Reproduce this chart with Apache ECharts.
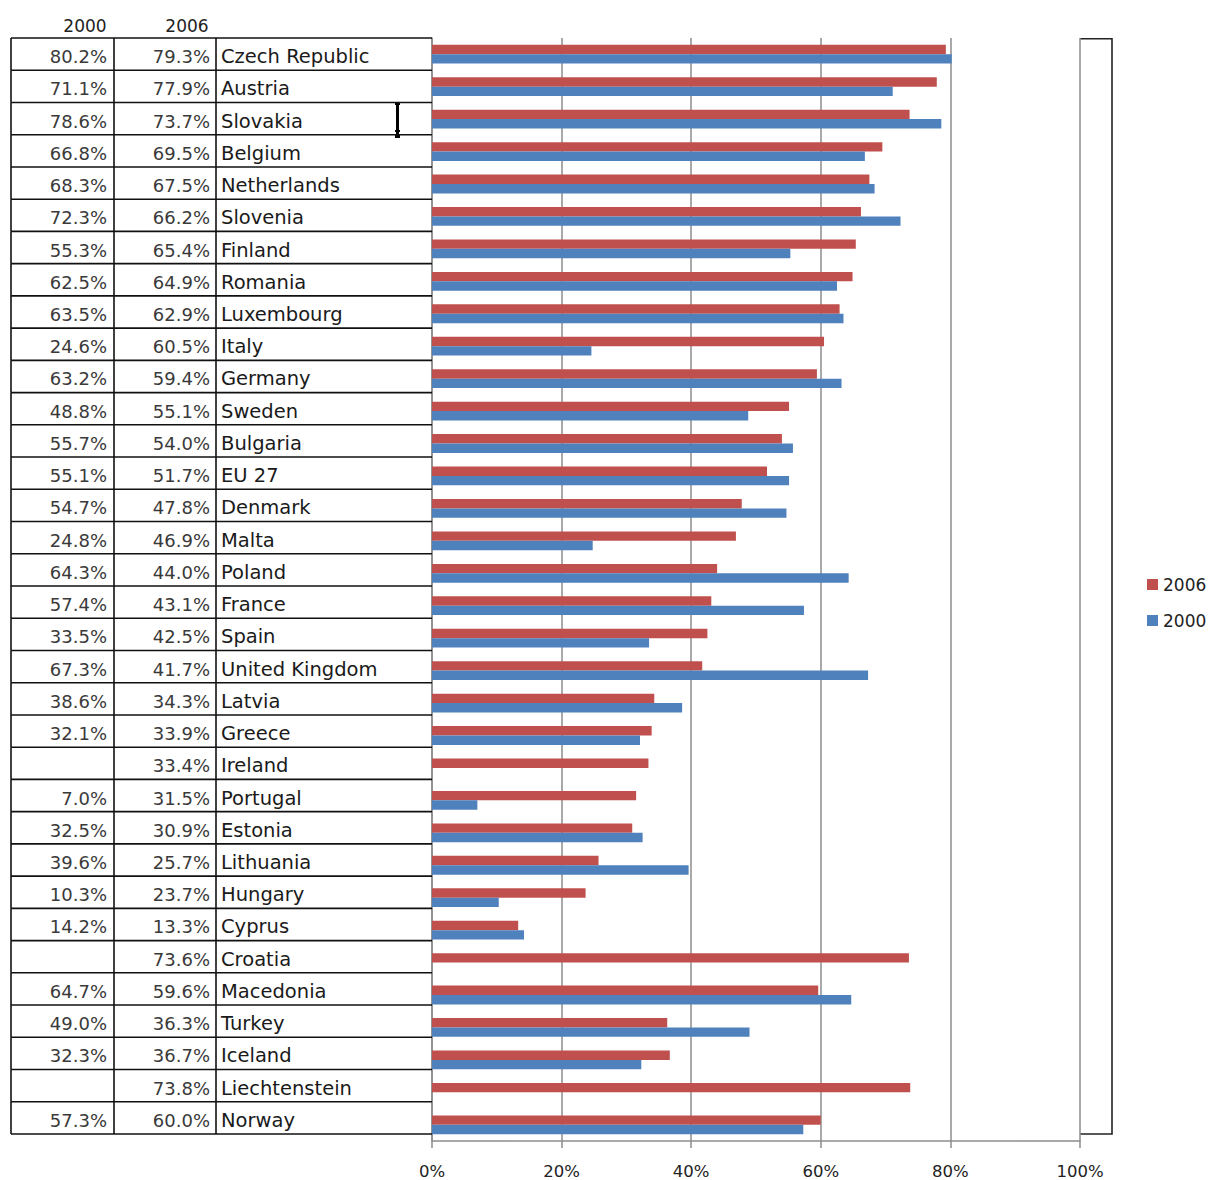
<!DOCTYPE html>
<html>
<head>
<meta charset="utf-8">
<title>Share by country, 2000 and 2006</title>
<script src="https://cdn.jsdelivr.net/npm/echarts@6/dist/echarts.min.js"></script>
<style>
  html, body { margin: 0; padding: 0; background: #ffffff; }
  #chart { width: 1209px; height: 1180px; }
</style>
</head>
<body>
<div id="chart"></div>
<script>
// Countries, top to bottom
var countries = [
  'Czech Republic', 'Austria', 'Slovakia', 'Belgium', 'Netherlands', 'Slovenia',
  'Finland', 'Romania', 'Luxembourg', 'Italy', 'Germany', 'Sweden', 'Bulgaria',
  'EU 27', 'Denmark', 'Malta', 'Poland', 'France', 'Spain', 'United Kingdom',
  'Latvia', 'Greece', 'Ireland', 'Portugal', 'Estonia', 'Lithuania', 'Hungary',
  'Cyprus', 'Croatia', 'Macedonia', 'Turkey', 'Iceland', 'Liechtenstein', 'Norway'
];

// Percent values per year (null = no figure available)
var values2006 = [
  79.3, 77.9, 73.7, 69.5, 67.5, 66.2, 65.4, 64.9, 62.9, 60.5, 59.4, 55.1, 54.0,
  51.7, 47.8, 46.9, 44.0, 43.1, 42.5, 41.7, 34.3, 33.9, 33.4, 31.5, 30.9, 25.7,
  23.7, 13.3, 73.6, 59.6, 36.3, 36.7, 73.8, 60.0
];
var values2000 = [
  80.2, 71.1, 78.6, 66.8, 68.3, 72.3, 55.3, 62.5, 63.5, 24.6, 63.2, 48.8, 55.7,
  55.1, 54.7, 24.8, 64.3, 57.4, 33.5, 67.3, 38.6, 32.1, null, 7.0, 32.5, 39.6,
  10.3, 14.2, null, 64.7, 49.0, 32.3, null, 57.3
];

// Series / column headings and axis ticks
var seriesNames = ['2006', '2000'];
var columnHeads = ['2000', '2006'];
var axisTicks = [0, 20, 40, 60, 80, 100];

var COLOR_2006 = '#C0504D';
var COLOR_2000 = '#4F81BD';
var FONT = '"DejaVu Sans", Verdana, sans-serif';

// Table geometry (left side)
var COL_X = [11, 114, 216, 432];
var TABLE_TOP = 38, TABLE_BOTTOM = 1134;

function pct(v) { return v == null ? '' : v.toFixed(1) + '%'; }

var chart = echarts.init(document.getElementById('chart'), null, { renderer: 'svg' });

function renderRow(params, api) {
  var idx = api.value(1);
  var center = api.coord([0, idx]);
  var h = api.size([0, 1])[1];
  var top = center[1] - h / 2;
  var bottom = center[1] + h / 2;
  var cy = center[1] + 2.5;
  var lineStyle = { stroke: '#111', lineWidth: 1.6 };
  var children = [
    { type: 'line', shape: { x1: COL_X[0], y1: top, x2: COL_X[3], y2: top }, style: lineStyle },
    { type: 'line', shape: { x1: COL_X[0], y1: top, x2: COL_X[0], y2: bottom }, style: lineStyle },
    { type: 'line', shape: { x1: COL_X[1], y1: top, x2: COL_X[1], y2: bottom }, style: lineStyle },
    { type: 'line', shape: { x1: COL_X[2], y1: top, x2: COL_X[2], y2: bottom }, style: lineStyle },
    { type: 'text', style: { text: pct(values2000[idx]), x: COL_X[1] - 7, y: cy,
        textAlign: 'right', textVerticalAlign: 'middle', font: '18px ' + FONT, fill: '#3a3a3a' } },
    { type: 'text', style: { text: pct(values2006[idx]), x: COL_X[2] - 6, y: cy,
        textAlign: 'right', textVerticalAlign: 'middle', font: '18px ' + FONT, fill: '#3a3a3a' } },
    { type: 'text', style: { text: countries[idx], x: COL_X[2] + 5, y: cy,
        textAlign: 'left', textVerticalAlign: 'middle', font: '19.5px ' + FONT, fill: '#1a1a1a' } }
  ];
  if (idx === countries.length - 1) {
    children.push({ type: 'line', shape: { x1: COL_X[0], y1: bottom, x2: COL_X[3], y2: bottom }, style: lineStyle });
  }
  return { type: 'group', children: children };
}

var option = {
  backgroundColor: '#ffffff',
  animation: false,
  textStyle: { fontFamily: FONT },
  legend: {
    data: seriesNames,
    orient: 'vertical',
    left: 1142,
    top: 571,
    itemWidth: 11,
    itemHeight: 11,
    itemGap: 19,
    icon: 'rect',
    selectedMode: false,
    textStyle: { fontSize: 17, color: '#222', fontFamily: FONT }
  },
  grid: [
    { left: 432, top: 38, width: 648, height: 1104, containLabel: false },
    { left: COL_X[0], top: TABLE_TOP, width: COL_X[3] - COL_X[0], height: TABLE_BOTTOM - TABLE_TOP }
  ],
  xAxis: [
    {
      type: 'value', gridIndex: 0, min: axisTicks[0], max: axisTicks[axisTicks.length - 1], interval: 20,
      axisLine: { show: true, lineStyle: { color: '#8c8c8c', width: 1.5 } },
      axisTick: { show: true, length: 7, lineStyle: { color: '#8c8c8c', width: 1.5 } },
      splitLine: { show: true, lineStyle: { color: '#8c8c8c', width: 1.5 } },
      axisLabel: { formatter: '{value}%', fontSize: 16.5, color: '#222', margin: 22, fontFamily: FONT }
    },
    { type: 'value', gridIndex: 1, min: 0, max: 1, show: false }
  ],
  yAxis: [
    {
      type: 'category', gridIndex: 0, data: countries, inverse: true,
      axisLine: { show: true, lineStyle: { color: '#8c8c8c', width: 1.5 } },
      axisTick: { show: false }, axisLabel: { show: false }, splitLine: { show: false }
    },
    { type: 'category', gridIndex: 1, data: countries, inverse: true, show: false }
  ],
  series: [
    {
      name: seriesNames[0], type: 'bar', xAxisIndex: 0, yAxisIndex: 0,
      data: values2006, barWidth: 9.4, barGap: '0%', silent: true,
      itemStyle: { color: COLOR_2006 }
    },
    {
      name: seriesNames[1], type: 'bar', xAxisIndex: 0, yAxisIndex: 0,
      data: values2000, barWidth: 9.4, barGap: '0%', silent: true,
      itemStyle: { color: COLOR_2000 }
    },
    {
      type: 'custom', xAxisIndex: 1, yAxisIndex: 1, silent: true, clip: false,
      data: countries.map(function (c, i) { return [0, i]; }),
      renderItem: renderRow
    }
  ],
  graphic: [
    { type: 'text', style: { text: columnHeads[0], x: 85, y: 26, textAlign: 'center', textVerticalAlign: 'middle', font: '17px ' + FONT, fill: '#222' } },
    { type: 'text', style: { text: columnHeads[1], x: 187, y: 26, textAlign: 'center', textVerticalAlign: 'middle', font: '17px ' + FONT, fill: '#222' } },
    // empty frame to the right of the plot
    { type: 'polyline', shape: { points: [[1080, 38.8], [1112, 38.8], [1112, 1134], [1080, 1134]] },
      style: { stroke: '#222', lineWidth: 1.6, fill: null } },
    // text cursor
    { type: 'group', children: [
      { type: 'rect', shape: { x: 396, y: 104, width: 3, height: 33 }, style: { fill: '#000' } },
      { type: 'rect', shape: { x: 395, y: 102, width: 5, height: 3 }, style: { fill: '#000' } },
      { type: 'rect', shape: { x: 395, y: 130, width: 5, height: 2 }, style: { fill: '#000' } },
      { type: 'rect', shape: { x: 395, y: 135, width: 5, height: 3 }, style: { fill: '#000' } }
    ] }
  ]
};

chart.setOption(option);
</script>
</body>
</html>
